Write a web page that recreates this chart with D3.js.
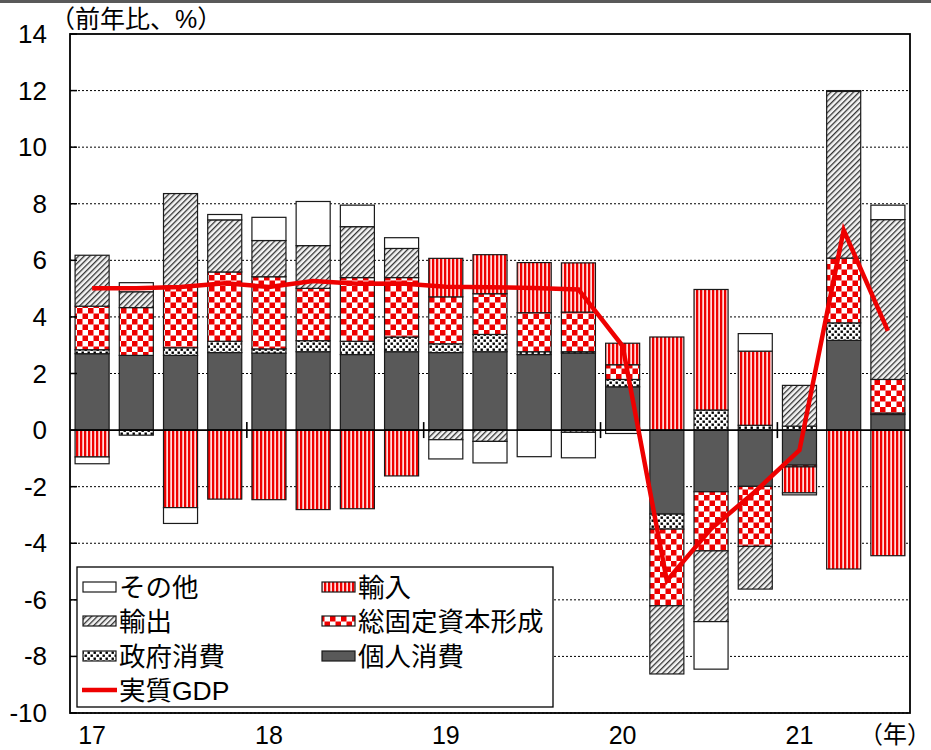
<!DOCTYPE html>
<html><head><meta charset="utf-8">
<script src="https://cdn.jsdelivr.net/npm/d3@7"></script>
<style>
html,body{margin:0;padding:0;background:#fff;}
svg{display:block;}
text{font-family:"Liberation Sans","Noto Sans CJK JP",sans-serif;fill:#000;}
</style></head>
<body>
<svg id="chart" width="931" height="750"></svg>
<script>
// ---- data ----
const quarters = ["17Q1","17Q2","17Q3","17Q4","18Q1","18Q2","18Q3","18Q4","19Q1","19Q2","19Q3","19Q4","20Q1","20Q2","20Q3","20Q4","21Q1","21Q2","21Q3"];
const yearLabels = ["17","18","19","20","21"];
const seriesNames = ["個人消費","政府消費","総固定資本形成","輸出","輸入","その他"];
const privateCons = [2.70,2.64,2.64,2.74,2.72,2.77,2.67,2.77,2.74,2.77,2.67,2.72,1.53,-2.97,-2.18,-1.99,-1.24,3.17,0.55];
const govCons     = [0.14,-0.18,0.27,0.40,0.15,0.39,0.47,0.52,0.31,0.61,0.10,0.05,0.26,-0.53,0.71,0.17,0.14,0.62,0.05];
const gfcf        = [1.54,1.69,2.18,2.45,2.55,1.85,2.25,2.10,1.66,1.44,1.38,1.40,0.52,-2.71,-2.09,-2.12,-0.06,2.29,1.19];
const exportsC    = [1.80,0.56,3.27,1.84,1.28,1.51,1.80,1.03,-0.34,-0.40,0.00,-0.08,0.00,-2.41,-2.50,-1.51,1.44,5.89,5.65];
const importsC    = [-0.95,0.00,-2.74,-2.44,-2.46,-2.81,-2.78,-1.62,1.36,1.38,1.77,1.74,0.76,3.29,4.26,2.62,-0.92,-4.91,-4.44];
const others      = [-0.24,0.32,-0.56,0.19,0.82,1.56,0.76,0.38,-0.68,-0.76,-0.94,-0.90,-0.12,0.00,-1.68,0.62,-0.07,0.03,0.51];
const realGDP     = [5.01,5.01,5.06,5.19,5.06,5.27,5.17,5.18,5.07,5.05,5.02,4.97,2.97,-5.32,-3.49,-2.17,-0.71,7.07,3.51];
const yTicks = [-10,-8,-6,-4,-2,0,2,4,6,8,10,12,14];

const seriesArrays = [privateCons,govCons,gfcf,exportsC,importsC,others];
const table = quarters.map((q,i)=>{const o={q};seriesNames.forEach((s,k)=>o[s]=seriesArrays[k][i]);return o;});

const svg = d3.select("#chart");
const L=70,R=910,T=34,B=713;
const x = d3.scaleBand().domain(quarters).range([L,R]).paddingInner(0.23).paddingOuter(0.115);
const y = d3.scaleLinear().domain([-10,14]).range([B,T]);

// top band
svg.append("rect").attr("x",0).attr("y",0).attr("width",931).attr("height",3).attr("fill","#595959");

// patterns
const defs = svg.append("defs");
const RED="#ee0000";
let p = defs.append("pattern").attr("id","pCheck").attr("patternUnits","userSpaceOnUse").attr("width",11).attr("height",11);
p.append("rect").attr("width",11).attr("height",11).attr("fill","#fff");
p.append("rect").attr("width",5.5).attr("height",5.5).attr("fill",RED);
p.append("rect").attr("x",5.5).attr("y",5.5).attr("width",5.5).attr("height",5.5).attr("fill",RED);

p = defs.append("pattern").attr("id","pStripe").attr("patternUnits","userSpaceOnUse").attr("width",4).attr("height",4);
p.append("rect").attr("width",4).attr("height",4).attr("fill","#ff8a8a");
p.append("rect").attr("x",0).attr("width",2).attr("height",4).attr("fill",RED);
p.append("rect").attr("x",2.8).attr("width",0.9).attr("height",4).attr("fill","#fff");

p = defs.append("pattern").attr("id","pHatch").attr("patternUnits","userSpaceOnUse").attr("width",4).attr("height",4).attr("patternTransform","rotate(45)");
p.append("rect").attr("width",4).attr("height",4).attr("fill","#f4f4f4");
p.append("rect").attr("width",1.3).attr("height",4).attr("fill","#333");

p = defs.append("pattern").attr("id","pDots").attr("patternUnits","userSpaceOnUse").attr("width",6).attr("height",6);
p.append("rect").attr("width",6).attr("height",6).attr("fill","#fff");
p.append("rect").attr("x",0.5).attr("y",0.5).attr("width",2.4).attr("height",2.4).attr("fill","#000");
p.append("rect").attr("x",3.5).attr("y",3.5).attr("width",2.4).attr("height",2.4).attr("fill","#000");

const fills = {"個人消費":"#595959","政府消費":"url(#pDots)","総固定資本形成":"url(#pCheck)","輸出":"url(#pHatch)","輸入":"url(#pStripe)","その他":"#fff"};

// grid
svg.append("g").selectAll("line").data(yTicks.filter(v=>v!==0&&v!==14)).join("line")
  .attr("x1",L).attr("x2",R).attr("y1",d=>y(d)).attr("y2",d=>y(d))
  .attr("stroke","#000").attr("stroke-width",1).attr("stroke-dasharray","2,2");

// bars
const stack = d3.stack().keys(seriesNames).offset(d3.stackOffsetDiverging);
const layers = stack(table);
svg.append("g").selectAll("g").data(layers).join("g")
  .attr("fill",d=>fills[d.key])
  .selectAll("rect").data(d=>d.filter(s=>s[1]!==s[0])).join("rect")
  .attr("x",d=>x(d.data.q)).attr("width",x.bandwidth())
  .attr("y",d=>y(Math.max(d[0],d[1]))).attr("height",d=>Math.abs(y(d[0])-y(d[1])))
  .attr("stroke","#1a1a1a").attr("stroke-width",1.2);

// zero line
svg.append("line").attr("x1",L).attr("x2",R).attr("y1",y(0)).attr("y2",y(0)).attr("stroke","#000").attr("stroke-width",1.6);

// year boundary ticks
const step = x.step();
const boundaries = quarters.map((q,i)=>i).filter(i=>i>0 && quarters[i].endsWith("Q1"));
svg.append("g").selectAll("line").data(boundaries).join("line")
  .attr("x1",i=>x(quarters[i])-(step-x.bandwidth())/2).attr("x2",i=>x(quarters[i])-(step-x.bandwidth())/2)
  .attr("y1",y(0)-8).attr("y2",y(0)+8).attr("stroke","#000").attr("stroke-width",1.6);

// frame
svg.append("rect").attr("x",L).attr("y",T).attr("width",R-L).attr("height",B-T)
  .attr("fill","none").attr("stroke","#000").attr("stroke-width",1.8);

// y ticks (inside) and labels
svg.append("g").selectAll("line").data(yTicks).join("line")
  .attr("x1",L).attr("x2",L+7).attr("y1",d=>y(d)).attr("y2",d=>y(d)).attr("stroke","#000").attr("stroke-width",1.5);
svg.append("g").selectAll("text").data(yTicks).join("text")
  .attr("x",47).attr("y",d=>y(d)+9).attr("text-anchor","end").attr("font-size",26).text(d=>d);

// x labels
svg.append("g").selectAll("text").data(yearLabels).join("text")
  .attr("x",d=>x(d+"Q1")+x.bandwidth()/2).attr("y",744).attr("text-anchor","middle").attr("font-size",25).text(d=>d);
svg.append("text").attr("x",931).attr("y",743).attr("text-anchor","end").attr("font-size",24).text("（年）");
svg.append("text").attr("x",50).attr("y",28).attr("font-size",25).text("（前年比、%）");

// GDP line
const line = d3.line().x((d,i)=>x(quarters[i])+x.bandwidth()/2).y(d=>y(d));
svg.append("path").datum(realGDP).attr("d",line).attr("fill","none").attr("stroke",RED).attr("stroke-width",4.5).attr("stroke-linejoin","miter");

// legend
const lg = svg.append("g");
lg.append("rect").attr("x",77).attr("y",567).attr("width",476).attr("height",140).attr("fill","#fff").attr("stroke","#000").attr("stroke-width",1.3);
const legendItems = [
  {name:"その他",col:0,row:0},{name:"輸入",col:1,row:0},
  {name:"輸出",col:0,row:1},{name:"総固定資本形成",col:1,row:1},
  {name:"政府消費",col:0,row:2},{name:"個人消費",col:1,row:2}
];
const rowY=[587,621,656,690], colX=[83,322];
legendItems.forEach(it=>{
  const cy=rowY[it.row], sx=colX[it.col];
  lg.append("rect").attr("x",sx).attr("y",cy-5).attr("width",33).attr("height",10).attr("fill",fills[it.name]).attr("stroke","#1a1a1a").attr("stroke-width",1.2);
  lg.append("text").attr("x",sx+36).attr("y",cy+10).attr("font-size",26.5).text(it.name);
});
lg.append("line").attr("x1",82).attr("x2",117).attr("y1",rowY[3]).attr("y2",rowY[3]).attr("stroke",RED).attr("stroke-width",4.5);
lg.append("text").attr("x",119).attr("y",rowY[3]+10).attr("font-size",26.5).text("実質GDP");
</script>
</body></html>
